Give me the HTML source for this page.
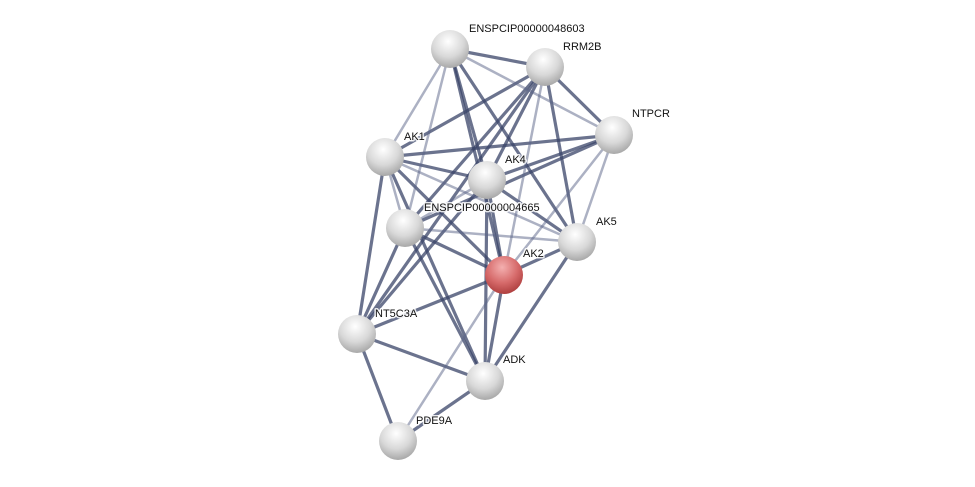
<!DOCTYPE html>
<html><head><meta charset="utf-8"><style>
html,body{margin:0;padding:0;background:#fff;}
svg{display:block;}
text{font-family:"Liberation Sans",sans-serif;font-size:11px;fill:#111;stroke:#fff;stroke-width:3px;stroke-opacity:0.85;paint-order:stroke;stroke-linejoin:round;}
</style></head><body>
<svg width="975" height="487" viewBox="0 0 975 487" xmlns="http://www.w3.org/2000/svg">
<defs>
<radialGradient id="g" cx="0.45" cy="0.3" r="0.75">
<stop offset="0" stop-color="#ffffff"/><stop offset="0.55" stop-color="#d8d8d8"/><stop offset="1" stop-color="#a0a0a0"/>
</radialGradient>
<radialGradient id="r" cx="0.45" cy="0.3" r="0.75">
<stop offset="0" stop-color="#f4b0b0"/><stop offset="0.55" stop-color="#d66a6a"/><stop offset="1" stop-color="#a83838"/>
</radialGradient>
</defs>
<g stroke-linecap="round">
<g stroke="#3a4468" stroke-width="3.2" stroke-opacity="0.75">
<line x1="450" y1="49" x2="545" y2="67"/>
<line x1="450" y1="49" x2="487" y2="180"/>
<line x1="450" y1="49" x2="504" y2="275"/>
<line x1="450" y1="49" x2="577" y2="242"/>
<line x1="545" y1="67" x2="385" y2="157"/>
<line x1="545" y1="67" x2="487" y2="180"/>
<line x1="545" y1="67" x2="405" y2="228"/>
<line x1="545" y1="67" x2="614" y2="135"/>
<line x1="545" y1="67" x2="577" y2="242"/>
<line x1="545" y1="67" x2="357" y2="334"/>
<line x1="614" y1="135" x2="385" y2="157"/>
<line x1="614" y1="135" x2="487" y2="180"/>
<line x1="614" y1="135" x2="405" y2="228"/>
<line x1="385" y1="157" x2="487" y2="180"/>
<line x1="385" y1="157" x2="504" y2="275"/>
<line x1="385" y1="157" x2="357" y2="334"/>
<line x1="385" y1="157" x2="485" y2="381"/>
<line x1="487" y1="180" x2="577" y2="242"/>
<line x1="487" y1="180" x2="504" y2="275"/>
<line x1="487" y1="180" x2="485" y2="381"/>
<line x1="487" y1="180" x2="357" y2="334"/>
<line x1="405" y1="228" x2="504" y2="275"/>
<line x1="405" y1="228" x2="357" y2="334"/>
<line x1="405" y1="228" x2="485" y2="381"/>
<line x1="577" y1="242" x2="504" y2="275"/>
<line x1="577" y1="242" x2="485" y2="381"/>
<line x1="504" y1="275" x2="357" y2="334"/>
<line x1="504" y1="275" x2="485" y2="381"/>
<line x1="357" y1="334" x2="485" y2="381"/>
<line x1="357" y1="334" x2="398" y2="441"/>
<line x1="485" y1="381" x2="398" y2="441"/>
</g>
<g stroke="#5a6488" stroke-width="2.5" stroke-opacity="0.5">
<line x1="450" y1="49" x2="614" y2="135"/>
<line x1="450" y1="49" x2="385" y2="157"/>
<line x1="450" y1="49" x2="405" y2="228"/>
<line x1="545" y1="67" x2="504" y2="275"/>
<line x1="614" y1="135" x2="577" y2="242"/>
<line x1="614" y1="135" x2="504" y2="275"/>
<line x1="385" y1="157" x2="405" y2="228"/>
<line x1="385" y1="157" x2="577" y2="242"/>
<line x1="487" y1="180" x2="405" y2="228"/>
<line x1="405" y1="228" x2="577" y2="242"/>
<line x1="504" y1="275" x2="398" y2="441"/>
</g>
</g>
<g>
<circle cx="450" cy="49" r="19" fill="url(#g)"/>
<circle cx="545" cy="67" r="19" fill="url(#g)"/>
<circle cx="614" cy="135" r="19" fill="url(#g)"/>
<circle cx="385" cy="157" r="19" fill="url(#g)"/>
<circle cx="487" cy="180" r="19" fill="url(#g)"/>
<circle cx="405" cy="228" r="19" fill="url(#g)"/>
<circle cx="577" cy="242" r="19" fill="url(#g)"/>
<circle cx="504" cy="275" r="19" fill="url(#r)"/>
<circle cx="357" cy="334" r="19" fill="url(#g)"/>
<circle cx="485" cy="381" r="19" fill="url(#g)"/>
<circle cx="398" cy="441" r="19" fill="url(#g)"/>
</g>
<text x="469" y="32">ENSPCIP00000048603</text>
<text x="563" y="50">RRM2B</text>
<text x="632" y="117">NTPCR</text>
<text x="404" y="140">AK1</text>
<text x="505" y="163">AK4</text>
<text x="424" y="211">ENSPCIP00000004665</text>
<text x="596" y="225">AK5</text>
<text x="523" y="257">AK2</text>
<text x="375" y="317">NT5C3A</text>
<text x="503" y="363">ADK</text>
<text x="416" y="424">PDE9A</text>
</svg>
</body></html>
